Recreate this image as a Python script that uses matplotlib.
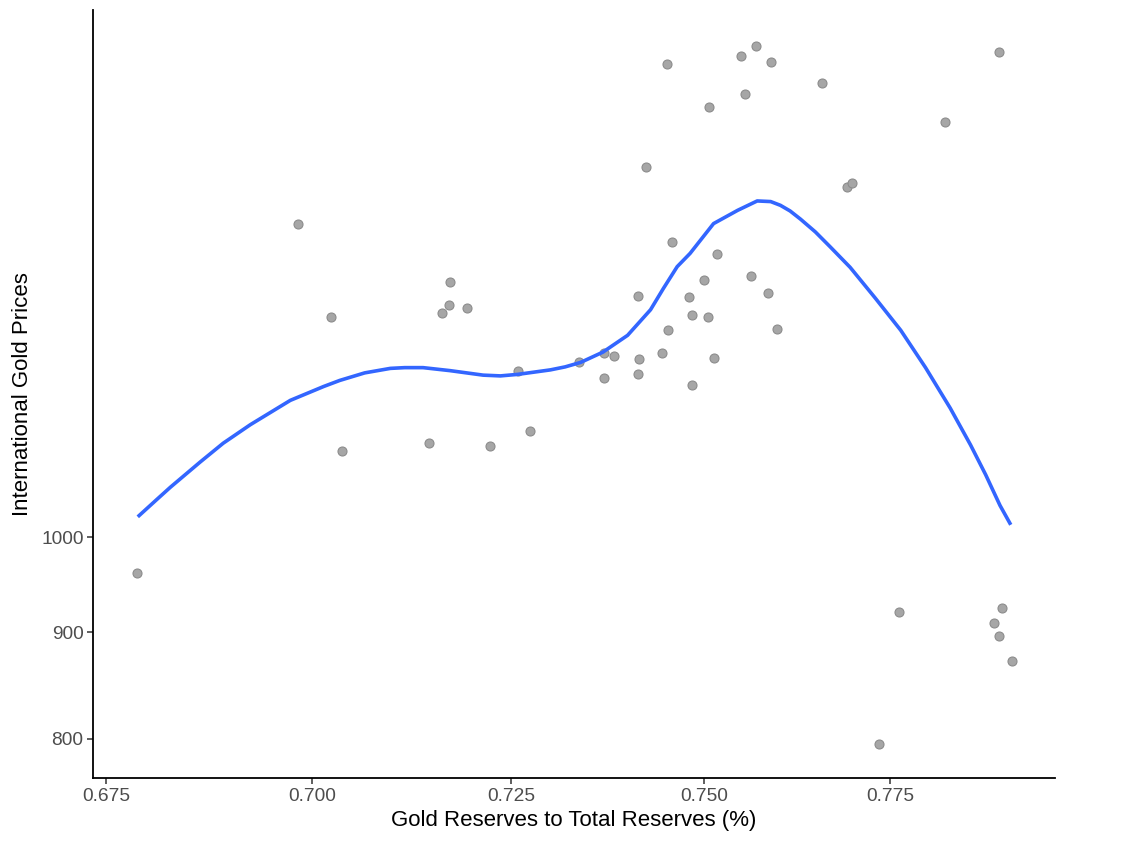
import matplotlib
matplotlib.use("Agg")
import matplotlib.pyplot as plt
from matplotlib.ticker import FixedLocator, NullLocator, FixedFormatter

# gold reserves share vs. international gold price
reserve_share = [
    0.6787, 0.6983, 0.7023, 0.7037, 0.7146, 0.7172, 0.7171, 0.7162, 0.7194, 0.7223,
    0.7259, 0.7274, 0.7337, 0.7369, 0.7382, 0.7369, 0.7414, 0.7415, 0.7414, 0.7424,
    0.7445, 0.7453, 0.7458, 0.7451, 0.7480, 0.7484, 0.7485, 0.7501, 0.7505, 0.7507,
    0.7513, 0.7517, 0.7550, 0.7555, 0.7563, 0.7570, 0.7585, 0.7590, 0.7598, 0.7658,
    0.7692, 0.7698, 0.7826, 0.7901, 0.7762, 0.7905, 0.7894, 0.7900, 0.7919, 0.7735,
]
gold_price = [
    961, 1416, 1277, 1100, 1110, 1327, 1294, 1283, 1289, 1107,
    1203, 1125, 1214, 1227, 1223, 1193, 1307, 1219, 1198, 1508,
    1227, 1258, 1387, 1690, 1305, 1279, 1184, 1330, 1276, 1612,
    1220, 1369, 1705, 1634, 1336, 1724, 1311, 1693, 1260, 1654,
    1474, 1482, 1585, 1713, 921, 925, 909, 896, 872, 795,
]

# loess trend
trend_x = [
    0.6788, 0.6811, 0.6827, 0.6863, 0.6891, 0.6924, 0.6973, 0.7014, 0.7034, 0.7065,
    0.7097, 0.7115, 0.7138, 0.7172, 0.7214, 0.7236, 0.7258, 0.7300, 0.7319, 0.7339,
    0.7368, 0.7400, 0.7430, 0.7447, 0.7465, 0.7482, 0.7513, 0.7545, 0.7571, 0.7589,
    0.7602, 0.7615, 0.7629, 0.7649, 0.7669, 0.7696, 0.7730, 0.7765, 0.7799, 0.7833,
    0.7861, 0.7882, 0.7902, 0.7917,
]
trend_y = [
    1023, 1043, 1057, 1087, 1110, 1133, 1164, 1182, 1190, 1200,
    1206, 1207, 1207, 1203, 1197, 1196, 1198, 1204, 1208, 1214,
    1228, 1251, 1287, 1318, 1350, 1370, 1416, 1437, 1452, 1451,
    1445, 1436, 1423, 1403, 1380, 1349, 1304, 1258, 1207, 1154,
    1108, 1072, 1036, 1014,
]

x_ticks = [0.675, 0.700, 0.725, 0.750, 0.775]
x_tick_labels = ["0.675", "0.700", "0.725", "0.750", "0.775"]
y_ticks = [800, 900, 1000]
y_tick_labels = ["800", "900", "1000"]

plt.rcParams["font.family"] = ["Liberation Sans", "DejaVu Sans"]

fig = plt.figure(figsize=(11.28, 8.41), dpi=100)
ax = fig.add_axes([0.0827, 0.0749, 0.8526, 0.9130])

ax.scatter(reserve_share, gold_price, s=42, color="#a6a6a6",
           edgecolors="#8c8c8c", linewidths=0.8, zorder=2)
ax.plot(trend_x, trend_y, color="#3366FF", lw=2.6, zorder=3,
        solid_capstyle="butt", solid_joinstyle="round")

ax.set_xscale("log")
ax.set_yscale("log")
ax.set_xlim(0.6735, 0.7979)
ax.set_ylim(765.8, 1794)

ax.xaxis.set_major_locator(FixedLocator(x_ticks))
ax.xaxis.set_major_formatter(FixedFormatter(x_tick_labels))
ax.xaxis.set_minor_locator(NullLocator())
ax.yaxis.set_major_locator(FixedLocator(y_ticks))
ax.yaxis.set_major_formatter(FixedFormatter(y_tick_labels))
ax.yaxis.set_minor_locator(NullLocator())

for side in ("top", "right"):
    ax.spines[side].set_visible(False)
for side in ("left", "bottom"):
    ax.spines[side].set_linewidth(1.3)
    ax.spines[side].set_color("black")

ax.tick_params(axis="both", length=4, width=1.1, color="#333333",
               labelcolor="#4d4d4d", labelsize=13.8, pad=3)

ax.set_xlabel("Gold Reserves to Total Reserves (%)", fontsize=16,
              color="black", labelpad=4)
ax.set_ylabel("International Gold Prices", fontsize=16,
              color="black", labelpad=6)

fig.savefig("out.png", dpi=100)
